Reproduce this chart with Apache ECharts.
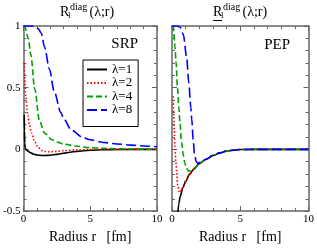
<!DOCTYPE html>
<html><head><meta charset="utf-8">
<script src="https://cdn.jsdelivr.net/npm/echarts@6/dist/echarts.min.js"></script>
<style>html,body{margin:0;padding:0;background:#fff}#c{width:317px;height:249px}</style>
</head><body><div id="c"></div>
<script>
// ---- data ----
const seriesNames = ['λ=1', 'λ=2', 'λ=4', 'λ=8'];
const panelTitles = ['SRP', 'PEP'];
const xTicks = [0, 5, 10];
const yTicks = [-0.5, 0, 0.5, 1];
const xAxisName = 'Radius r   [fm]';

const srpL1 = [[0.06,0.28],[0.08,0.15],[0.1,0.05],[0.14,0.008],[0.22,-0.004],[0.35,-0.014],[0.5,-0.025],[0.75,-0.037],[1,-0.045],[1.5,-0.05],[2,-0.047],[2.5,-0.04],[3,-0.031],[3.5,-0.023],[4,-0.016],[5,-0.007],[6,-0.003],[7,-0.001],[8,0],[10,0]];
const srpL2 = [[0.05,0.7],[0.1,0.57],[0.17,0.44],[0.31,0.29],[0.45,0.2],[0.6,0.135],[0.85,0.06],[1.1,0.015],[1.4,-0.01],[1.7,-0.018],[2,-0.02],[2.5,-0.016],[3,-0.01],[4,-0.004],[5,-0.001],[6,0],[10,0]];
const srpL4 = [[0,1],[0.12,0.99],[0.36,0.9],[0.55,0.77],[0.85,0.49],[1.2,0.23],[1.6,0.13],[2.1,0.08],[2.5,0.06],[3,0.043],[4,0.026],[5,0.014],[6,0.008],[8,0.003],[10,0.001]];
const srpL8 = [[0,1],[0.5,1],[0.9,0.995],[1.1,0.98],[1.34,0.94],[1.58,0.83],[1.95,0.65],[2.3,0.47],[2.8,0.3],[3.0,0.25],[3.6,0.155],[4.4,0.1],[5,0.078],[6,0.056],[7,0.044],[8,0.035],[9,0.028],[10,0.022]];

const pepL1 = [[0.4,-0.55],[0.5,-0.44],[0.6,-0.38],[0.8,-0.31],[1.0,-0.26],[1.3,-0.2],[1.6,-0.16],[2.0,-0.115],[2.5,-0.08],[3,-0.05],[3.5,-0.03],[4,-0.014],[4.5,-0.005],[5,-0.001],[6,0],[10,0]];
const pepL2 = [[0.08,0.43],[0.12,0.3],[0.17,0.15],[0.22,0.0],[0.28,-0.1],[0.34,-0.18],[0.42,-0.29],[0.5,-0.34],[0.6,-0.35],[0.7,-0.33],[0.83,-0.29],[1.0,-0.255],[1.3,-0.2],[1.6,-0.16],[2,-0.115],[2.5,-0.08],[3,-0.05],[3.5,-0.028],[4,-0.013],[5,-0.001],[6,0],[10,0]];
const pepL4 = [[0,1],[0.1,0.99],[0.22,0.83],[0.3,0.7],[0.4,0.5],[0.5,0.34],[0.58,0.22],[0.7,0.06],[0.82,-0.04],[0.94,-0.11],[1.05,-0.15],[1.2,-0.175],[1.35,-0.175],[1.5,-0.165],[1.7,-0.145],[2,-0.115],[2.5,-0.08],[3,-0.05],[3.5,-0.028],[4,-0.013],[5,-0.001],[6,0],[10,0]];
const pepL8 = [[0,1],[0.4,1],[0.6,0.99],[0.83,0.93],[1.07,0.75],[1.23,0.54],[1.38,0.34],[1.45,0.24],[1.55,0.08],[1.65,-0.04],[1.78,-0.1],[1.9,-0.115],[2.05,-0.105],[2.2,-0.1],[2.5,-0.08],[3,-0.048],[3.5,-0.028],[4,-0.013],[5,-0.001],[6,0],[10,0]];

// ---- styling ----
const FONT = '"Liberation Serif", "Times New Roman", serif';
const AX = '#666';
const styles = [
  {color:'#000000', type:'solid', width:1.6},
  {color:'#ff0000', type:[1.5,2], width:1.6},
  {color:'#00a000', type:[6,3], width:1.6},
  {color:'#0000ff', type:[10,4], width:1.6}
];

const chart = echarts.init(document.getElementById('c'), null, {renderer:'canvas'});

function xAxes(gi){
  const common = {
    gridIndex: gi, type:'value', min:xTicks[0], max:xTicks[xTicks.length-1], interval:xTicks[1]-xTicks[0],
    axisLine:{onZero:false, lineStyle:{color:AX, width:1.5}},
    axisTick:{inside:true, length:5, lineStyle:{color:AX, width:1}},
    minorTick:{show:true, splitNumber:5, length:3, lineStyle:{color:AX, width:1}},
    splitLine:{show:false}, minorSplitLine:{show:false}
  };
  return [
    Object.assign({}, common, {position:'bottom',
      axisLabel:{fontFamily:FONT, fontSize:11, color:'#000', margin:3},
      name:xAxisName, nameLocation:'middle', nameGap:18,
      nameTextStyle:{fontFamily:FONT, fontSize:14, color:'#000'}}),
    Object.assign({}, common, {position:'top', axisLabel:{show:false}})
  ];
}
function yAxes(gi, labels){
  const common = {
    gridIndex: gi, type:'value', min:yTicks[0], max:yTicks[yTicks.length-1], interval:yTicks[1]-yTicks[0],
    axisLine:{onZero:false, lineStyle:{color:AX, width:1.5}},
    axisTick:{inside:true, length:5, lineStyle:{color:AX, width:1}},
    minorTick:{show:true, splitNumber:5, length:3, lineStyle:{color:AX, width:1}},
    splitLine:{show:false}, minorSplitLine:{show:false}
  };
  return [
    Object.assign({}, common, {position:'left',
      axisLabel:{show:labels, fontFamily:FONT, fontSize:11, color:'#000', margin:3}}),
    Object.assign({}, common, {position:'right', axisLabel:{show:false}})
  ];
}

function mkSeries(data, i, gi){
  return {
    type:'line', name:seriesNames[i], data:data,
    xAxisIndex: gi*2, yAxisIndex: gi*2,
    symbol:'none', smooth:0.3, smoothMonotone:'x', clip:true,
    lineStyle:{color:styles[i].color, type:styles[i].type, width:styles[i].width},
    itemStyle:{color:styles[i].color},
    animation:false
  };
}

function titleGraphics(x0, underline){
  const g = [
    {type:'text', x:x0, y:12, style:{text:'R', font:'14px '+FONT, fill:'#000', verticalAlign:'middle'}},
    {type:'text', x:x0+8, y:16, style:{text:'l', font:'9px '+FONT, fill:'#000', verticalAlign:'middle'}},
    {type:'text', x:x0+10, y:7.5, style:{text:'diag', font:'10px '+FONT, fill:'#000', verticalAlign:'middle'}},
    {type:'text', x:x0+29.5, y:12, style:{text:'(λ;r)', font:'14px '+FONT, fill:'#000', verticalAlign:'middle'}}
  ];
  if (underline) g.push({type:'line', shape:{x1:x0, y1:20.5, x2:x0+9, y2:20.5}, style:{stroke:'#000', lineWidth:1}});
  return g;
}

const option = {
  animation:false,
  grid:[
    {left:20, top:26, width:137, height:197},
    {left:172, top:26, width:138, height:197}
  ],
  xAxis:[...xAxes(0), ...xAxes(1)],
  yAxis:[...yAxes(0, true), ...yAxes(1, false)],
  legend:{
    data:seriesNames, orient:'vertical', left:83, top:60,
    itemWidth:20, itemHeight:10, itemGap:0.5,
    padding:[3,6,10,3],
    itemStyle:{opacity:0},
    borderColor:'#000', borderWidth:1, borderRadius:0,
    textStyle:{fontFamily:FONT, fontSize:13, color:'#000', lineHeight:13},
    selectedMode:false
  },
  graphic:[
    ...titleGraphics(60, false),
    ...titleGraphics(213, true),
    {type:'text', x:138, y:44, style:{text:panelTitles[0], font:'15px '+FONT, fill:'#000', align:'right', verticalAlign:'middle'}},
    {type:'text', x:290, y:45, style:{text:panelTitles[1], font:'15px '+FONT, fill:'#000', align:'right', verticalAlign:'middle'}}
  ],
  series:[
    mkSeries(srpL1,0,0), mkSeries(srpL2,1,0), mkSeries(srpL4,2,0), mkSeries(srpL8,3,0),
    mkSeries(pepL1,0,1), mkSeries(pepL2,1,1), mkSeries(pepL4,2,1), mkSeries(pepL8,3,1)
  ]
};
chart.setOption(option);
</script>
</body></html>
